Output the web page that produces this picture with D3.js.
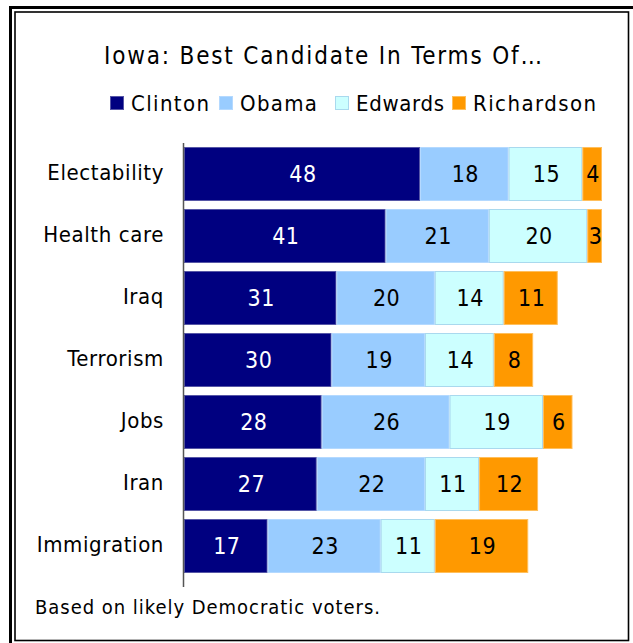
<!DOCTYPE html>
<html>
<head>
<meta charset="utf-8">
<script src="https://cdn.jsdelivr.net/npm/d3@7"></script>
<style>
  html, body { margin: 0; padding: 0; background: #fff; }
  svg { display: block; }
  text { font-family: "DejaVu Sans", "Liberation Sans", Arial, sans-serif; font-stretch: condensed; fill: #000; }
</style>
</head>
<body>
<svg id="chart" width="633" height="643"></svg>
<script>
// Issues asked about, top to bottom
const issues = ["Electability", "Health care", "Iraq", "Terrorism", "Jobs", "Iran", "Immigration"];
// Candidates in stacking order
const candidates = ["Clinton", "Obama", "Edwards", "Richardson"];
// Percent naming each candidate as best, per issue
const clinton    = [48, 41, 31, 30, 28, 27, 17];
const obama      = [18, 21, 20, 19, 26, 22, 23];
const edwards    = [15, 20, 14, 14, 19, 11, 11];
const richardson = [ 4,  3, 11,  8,  6, 12, 19];
const titleText = "Iowa: Best Candidate In Terms Of\u2026";
const noteText = "Based on likely Democratic voters.";

const fills   = ["#000080", "#99ccff", "#ccffff", "#ff9900"];
const strokes = ["#5656a6", "#b4d9ff", "#a9d9ee", "#ffbf5c"];
const labelColors = ["#fff", "#000", "#000", "#000"];

const rows = issues.map((issue, i) => ({
  issue,
  Clinton: clinton[i], Obama: obama[i], Edwards: edwards[i], Richardson: richardson[i]
}));
const series = d3.stack().keys(candidates)(rows);

const svg = d3.select("#chart");

// Double frame
svg.append("rect").attr("x", 10.5).attr("y", 7.5).attr("width", 630).attr("height", 640)
  .attr("fill", "none").attr("stroke", "#000").attr("stroke-width", 3);
svg.append("rect").attr("x", 15).attr("y", 12).attr("width", 613.5).attr("height", 628.5)
  .attr("fill", "none").attr("stroke", "#000").attr("stroke-width", 1.6);

// Title
svg.append("text").attr("x", 104).attr("y", 64)
  .style("font-size", "24px")
  .attr("textLength", 438).attr("lengthAdjust", "spacing")
  .text(titleText);

// Legend
const legendX = [110, 219, 335, 452];
const legendW = [78, 77, 88, 123];
const legend = svg.append("g");
candidates.forEach((c, i) => {
  legend.append("rect").attr("x", legendX[i] + 0.5).attr("y", 96.5).attr("width", 13).attr("height", 13)
    .attr("fill", fills[i]).attr("stroke", strokes[i]).attr("stroke-width", 1);
  legend.append("text").attr("x", legendX[i] + 21).attr("y", 111)
    .style("font-size", "22px")
    .attr("textLength", legendW[i]).attr("lengthAdjust", "spacing")
    .text(c);
});

// Scales
const x = d3.scaleLinear().domain([0, 85]).range([184, 602]);
const y = d3.scaleBand().domain(issues).range([143, 577])
  .paddingInner(8 / 62).paddingOuter(0.0645);

// Bars
const groups = svg.append("g").selectAll("g").data(series).join("g")
  .attr("fill", (d, i) => fills[i]).attr("stroke", (d, i) => strokes[i]);

groups.selectAll("rect").data(d => d).join("rect")
  .attr("x", d => x(d[0]) + 0.5)
  .attr("y", d => y(d.data.issue) + 0.5)
  .attr("width", d => x(d[1]) - x(d[0]) - 1)
  .attr("height", y.bandwidth() - 1)
  .attr("stroke-width", 1);

// Value labels
series.forEach((s, i) => {
  svg.append("g").selectAll("text").data(s).join("text")
    .attr("x", d => (x(d[0]) + x(d[1])) / 2 + 1)
    .attr("y", d => y(d.data.issue) + y.bandwidth() / 2 + 8)
    .attr("text-anchor", "middle")
    .style("font-size", "23px").style("letter-spacing", "0.5px")
    .style("fill", labelColors[i])
    .text(d => d[1] - d[0]);
});

// Category axis
const axis = svg.append("g").attr("transform", `translate(${x(0)},0)`)
  .call(d3.axisLeft(y).tickSize(0).tickPadding(20));
axis.select(".domain").remove();
axis.append("line").attr("x1", -0.5).attr("x2", -0.5).attr("y1", 143).attr("y2", 587)
  .attr("stroke", "#555").attr("stroke-width", 1.5);
axis.selectAll(".tick text")
  .attr("dy", "0.28em")
  .style("font-family", "'DejaVu Sans', 'Liberation Sans', Arial, sans-serif")
  .style("font-stretch", "condensed")
  .style("font-size", "22px").style("letter-spacing", "0.6px")
  .style("fill", "#000");

// Footnote
svg.append("text").attr("x", 35).attr("y", 614)
  .style("font-size", "20px")
  .attr("textLength", 345).attr("lengthAdjust", "spacing")
  .text(noteText);
</script>
</body>
</html>
